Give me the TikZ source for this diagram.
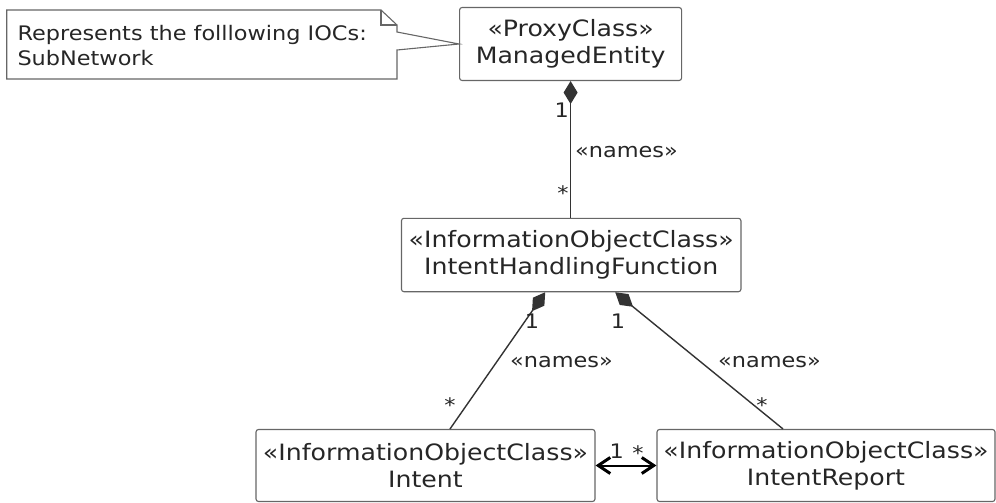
\documentclass[tikz,border=0pt]{standalone}
\usepackage{fontspec}
\setmainfont{DejaVu Sans}[FakeStretch=1.12]
\usetikzlibrary{arrows.meta}

\begin{document}
\begin{tikzpicture}[x=1pt,y=-1pt,
      ioc/.style={
        rectangle,
        draw=black!60,
        line width=1.1pt,
        rounded corners=2.5pt,
        align=center,
        inner sep=0pt,
        text=black!85,
        font=\fontsize{22.5}{27}\selectfont
      },
      lbl/.style={inner sep=0pt, text=black!85, font=\fontsize{20}{24.3}\selectfont},
      names/.style={draw=black!80, line width=1.4pt, {Diamond[length=23pt,width=14pt]}-},
      assoc/.style={draw=black, line width=2pt,
        {Straight Barb[length=12pt,width=16pt,line width=3pt]}-{Straight Barb[length=12pt,width=16pt,line width=3pt]}}]

    \useasboundingbox (0,0) rectangle (996,503);

    \node[ioc,minimum width=222pt,minimum height=73pt] (ME) at (570.6,44) {«ProxyClass»\\ManagedEntity};
    \node[ioc,minimum width=339.5pt,minimum height=73.4pt] (IHF) at (571.2,255) {«InformationObjectClass»\\IntentHandlingFunction};
    \node[ioc,minimum width=339pt,minimum height=72pt] (I) at (425.5,465.5) {«InformationObjectClass»\\Intent};
    \node[ioc,minimum width=338pt,minimum height=72pt] (IR) at (826,465.5) {«InformationObjectClass»\\IntentReport};

    \draw[draw=black!60,line width=1.1pt,fill=white] (6.7,10) -- (381,10) -- (397,25) -- (397,32)
      -- (ME.west) -- (397,50) -- (397,79) -- (6.7,79) -- cycle;
    \draw[draw=black!60,line width=1.1pt] (381,10) -- (381,25) -- (397,25);
    \node[lbl,align=left,anchor=north west] (note) at (17.3,25.5) {Represents the folllowing IOCs:\\SubNetwork};

    \draw[names] (ME.south) -- (ME.south |- IHF.north);
    \draw[names] ([xshift=-26pt]IHF.south) -- ([xshift=24.5pt]I.north);
    \draw[names] ([xshift=44pt]IHF.south) -- ([xshift=-43pt]IR.north);
    \draw[assoc] (I.east) -- (IR.west);

    \node[lbl,anchor=base] (m1) at (561.7,117.5) {1};
    \node[lbl,anchor=base west] (n1) at (575,157) {«names»};
    \node[lbl,anchor=base] (s1) at (563,200) {*};
    \node[lbl,anchor=base] (m2) at (532,328.5) {1};
    \node[lbl,anchor=base west] (n2) at (510,367.5) {«names»};
    \node[lbl,anchor=base] (s2) at (450,412) {*};
    \node[lbl,anchor=base] (m3) at (618,328.5) {1};
    \node[lbl,anchor=base west] (n3) at (718,367.5) {«names»};
    \node[lbl,anchor=base] (s3) at (762,412) {*};
    \node[lbl,anchor=base] (m4) at (616.7,458) {1};
    \node[lbl,anchor=base] (s4) at (638,460) {*};
  \end{tikzpicture}
\end{document}
